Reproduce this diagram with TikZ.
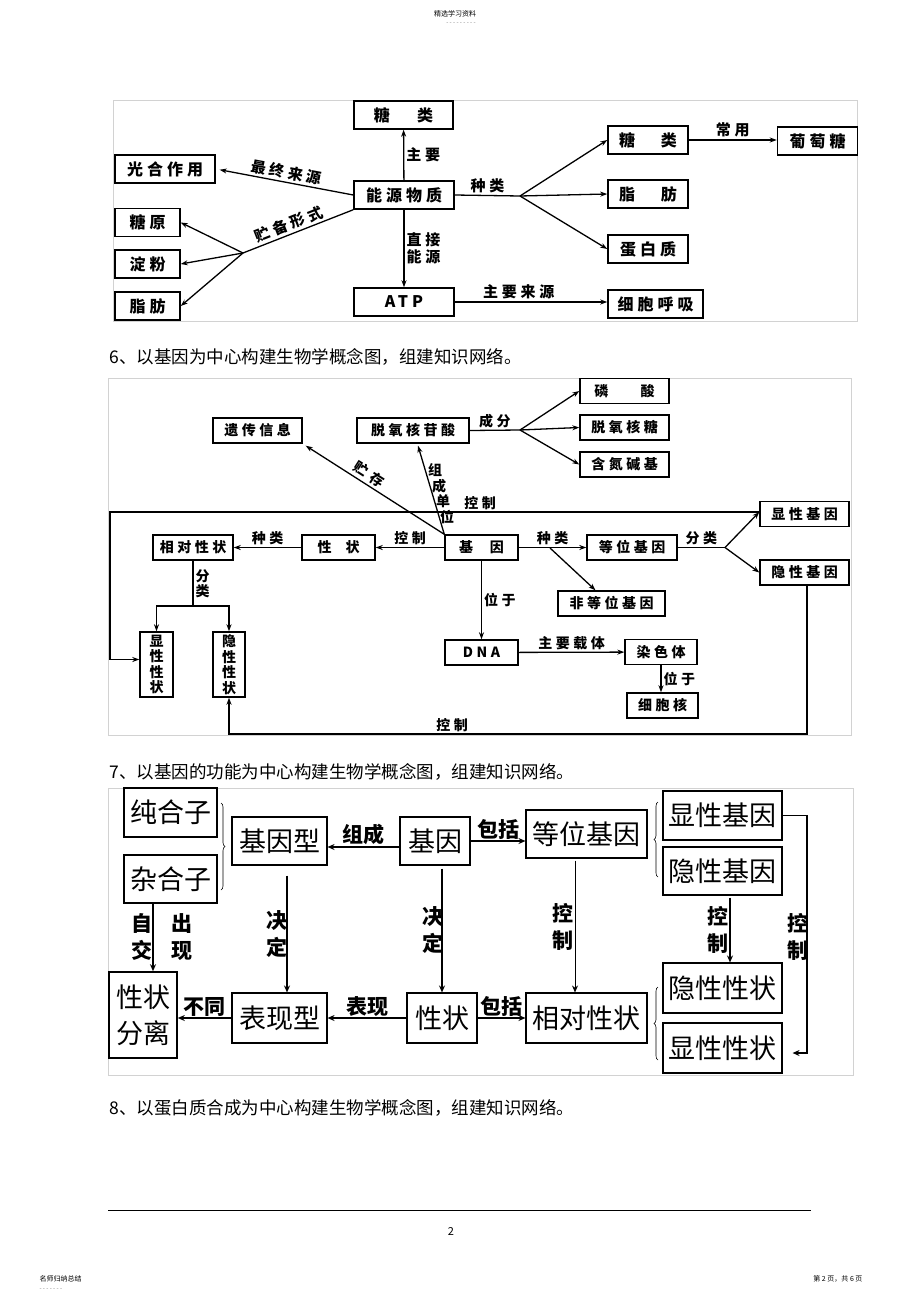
\documentclass[tikz,border=0pt]{standalone}
\usepackage{fontspec}
\setmainfont{Noto Sans CJK SC}
\newfontfamily\wide[LetterSpace=25]{Noto Sans CJK SC}
\usetikzlibrary{arrows.meta,positioning,decorations.pathreplacing}

\tikzset{
  frame/.style={draw=gray!35, line width=0.8pt},
  % first two maps
  boxa/.style={draw, line width=1.5pt, minimum height=28, inner sep=0, font=\wide\bfseries\fontsize{16}{18}\selectfont},
  boxb/.style={draw, line width=1.4pt, minimum height=25, inner sep=0, font=\wide\bfseries\fontsize{14}{16}\selectfont},
  laba/.style={inner sep=2pt, font=\wide\bfseries\fontsize{15}{17}\selectfont},
  labb/.style={inner sep=2pt, font=\wide\bfseries\fontsize{14}{16}\selectfont},
  ln/.style={line width=1.3pt},
  arr/.style={-{Stealth[length=7pt,width=5pt]}, line width=1.3pt},
  rarr/.style={{Stealth[length=7pt,width=5pt]}-, line width=1.3pt},
  % third map
  boxc/.style={draw, line width=1.1pt, inner sep=0, font=\fontsize{27}{30}\selectfont},
  labc/.style={inner sep=1pt, align=center, font=\bfseries\fontsize{21}{27}\selectfont},
  arrc/.style={-{Stealth[length=7pt,width=6pt]}, line width=1.7pt},
  brc/.style={decorate, decoration={brace, amplitude=4pt}, line width=0.6pt}
}

\begin{document}
\begin{tikzpicture}[x=1pt, y=-1pt]
\fill[white] (0,0) rectangle (920,1303);
\useasboundingbox (0,0) rectangle (920,1303);

% Page header and footer
\node (head) at (455,14) {\fontsize{7}{7}\selectfont 精选学习资料};
\node[text=gray] (headdots) at (461,24) {\fontsize{6}{6}\selectfont - - - - - - - - -};
\coordinate (fl) at (108,1210);
\coordinate (fr) at (811,1210);
\draw[line width=1pt] (fl) -- (fr);
\node (pnum) at (451,1231) {\fontsize{11}{11}\selectfont 2};
\node[anchor=west] (tagl) at (36,1279) {\fontsize{7}{7}\selectfont 名师归纳总结};
\node[anchor=west, text=gray] (tagdots) at (36,1290) {\fontsize{6}{6}\selectfont - - - - - - -};
\node[anchor=east] (tagr) at (866,1279) {\fontsize{7}{7}\selectfont 第 2 页，共 6 页};

% Captions
\node[anchor=west] (cap6) at (106,357) {\fontsize{17.5}{18}\selectfont 6、以基因为中心构建生物学概念图，组建知识网络。};
\node[anchor=west] (cap7) at (106,772) {\fontsize{17.5}{18}\selectfont 7、以基因的功能为中心构建生物学概念图，组建知识网络。};
\node[anchor=west] (cap8) at (106,1108) {\fontsize{17.5}{18}\selectfont 8、以蛋白质合成为中心构建生物学概念图，组建知识网络。};

% ---------------- Map 1: energy substances ----------------
\draw[frame] (113,100) rectangle (857,321);

\node[boxa, minimum width=99] (tl) at (403.5,115) {糖\hspace{1.7em}类};
\node[boxa, minimum width=100] (nyw) at (404,195) {能源物质};
\node[boxa, minimum width=100] (gh) at (165,169) {光合作用};
\node[boxa, minimum width=65] (ty) at (147.5,222.5) {糖原};
\node[boxa, minimum width=65] (df) at (147.5,264) {淀粉};
\node[boxa, minimum width=65] (zf) at (147.5,306) {脂肪};
\node[boxa, minimum width=100] (atp) at (404,302) {ATP};
\node[boxa, minimum width=80] (tl2) at (648,140) {糖\hspace{1.6em}类};
\node[boxa, minimum width=80] (zf2) at (648,194) {脂\hspace{1.6em}肪};
\node[boxa, minimum width=80] (dbz) at (648,249) {蛋白质};
\node[boxa, minimum width=95] (hx) at (655.5,304) {细胞呼吸};
\node[boxa, minimum width=80] (ptt) at (817.5,141) {葡萄糖};

% Map 1 links
\draw[arr] (nyw) -- node[laba, right] {主要} (tl);
\draw[rarr, shorten <=4pt] (gh.east) -- node[laba, sloped, above] {最终来源} (nyw.west);
\coordinate (cb) at (243,253);
\draw[ln] (cb) -- node[laba, sloped, above, pos=0.45] {贮备形式} (nyw.south west);
\draw[arr] (cb) -- (ty.east);
\draw[arr] (cb) -- (df.east);
\draw[arr] (cb) -- (zf.east);
\coordinate (zl) at (520,196);
\draw[ln] (nyw.east) -- node[laba, above] {种类} (zl);
\draw[arr] (zl) -- (tl2.west);
\draw[arr] (zl) -- (zf2.west);
\draw[arr] (zl) -- (dbz.west);
\draw[arr] (tl2.east) -- node[laba, above] {常用} (tl2.east -| ptt.west);
\draw[arr] (nyw) -- node[laba, right, align=left] {直接\\能源} (atp);
\draw[arr] (atp.east) -- node[laba, above, pos=0.42] {主要来源} (atp.east -| hx.west);

% ---------------- Map 2: gene ----------------
\draw[frame] (108,378) rectangle (851,735);

\node[boxb, minimum width=89] (ycxx) at (257.5,430.5) {遗传信息};
\node[boxb, minimum width=112] (tyhgs) at (413,430.5) {脱氧核苷酸};
\node[boxb, minimum width=89] (ls) at (624.5,391) {磷\hspace{2.3em}酸};
\node[boxb, minimum width=89] (tyht) at (624.5,427.5) {脱氧核糖};
\node[boxb, minimum width=89] (hdjj) at (624.5,464.5) {含氮碱基};
\node[boxb, minimum width=80] (xdxz) at (193,547.5) {相对性状};
\node[boxb, minimum width=73] (xz) at (338.5,547.5) {性\hspace{1em}状};
\node[boxb, minimum width=73] (jy) at (481.5,547.5) {基\hspace{1.2em}因};
\node[boxb, minimum width=90] (dwjy) at (632,547.5) {等位基因};
\node[boxb, minimum width=89] (xxjy) at (804.5,514) {显性基因};
\node[boxb, minimum width=89] (yxjy) at (804.5,572.5) {隐性基因};
\node[boxb, minimum width=107] (fdw) at (611.5,603.5) {非等位基因};
\node[boxb, minimum width=73] (dna) at (481.5,652.5) {DNA};
\node[boxb, minimum width=72] (rst) at (661,652) {染色体};
\node[boxb, minimum width=71] (xbh) at (662.5,705.5) {细胞核};
\node[boxb, minimum width=33, minimum height=65, align=center, font=\bfseries\fontsize{14}{15.5}\selectfont] (xxxz) at (156.5,664.5) {显\\性\\性\\状};
\node[boxb, minimum width=32, minimum height=65, align=center, font=\bfseries\fontsize{14}{15.5}\selectfont] (yxxz) at (229,664.5) {隐\\性\\性\\状};

% Map 2 links
\coordinate (cf) at (520,430);
\draw[ln] (tyhgs.east) -- node[labb, above] {成分} (cf);
\draw[arr] (cf) -- (ls.west);
\draw[arr] (cf) -- (tyht.west);
\draw[arr] (cf) -- (hdjj.west);
\draw[rarr] ([xshift=3pt,yshift=-2pt]ycxx.south east) -- node[labb, sloped, above, pos=0.42, inner sep=3pt] {贮\hspace{0.4em}存} (jy.north west);
\draw[rarr] ([xshift=5pt,yshift=-2pt]tyhgs.south) -- (jy.north west);
\foreach \c [count=\i] in {组,成,单,位}
  \node[labb] (zc\i) at ({431+4*\i},{455+15.5*\i}) {\c};
\coordinate (kz1) at (110,512);
\draw[arr] ([yshift=2pt]xxjy.west) -- node[labb, above, pos=0.43] {控制} (kz1) |- ([yshift=5pt]xxxz.west);
\coordinate (fl1) at (193,606);
\draw[ln] (xdxz.south) -- node[labb, right, align=center, font=\bfseries\fontsize{14}{15}\selectfont] {分\\类} (fl1);
\draw[arr] (fl1) -| (xxxz.north);
\draw[arr] (fl1) -| (yxxz.north);
\draw[arr] (xz) -- node[labb, above] {种类} (xdxz);
\draw[arr] (jy) -- node[labb, above] {控制} (xz);
\draw[arr] (jy) -- node[labb, above] {种类} (dwjy);
\coordinate (fz) at (550,548);
\draw[arr] (fz) -- ([xshift=-16pt]fdw.north);
\coordinate (fl2) at (725,547.5);
\draw[ln] (dwjy.east) -- node[labb, above] {分类} (fl2);
\draw[arr] (fl2) -- ([yshift=2pt]xxjy.west);
\draw[arr] (fl2) -- (yxjy.west);
\draw[arr] (jy) -- node[labb, right] {位于} (dna);
\draw[arr] (dna) -- node[labb, above] {主要载体} (rst);
\draw[arr] (rst.south) -- node[labb, right] {位于} (rst.south |- xbh.north);
\coordinate (kz2) at (807,734);
\draw[arr] ([xshift=2.5pt]yxjy.south) -- (kz2) -| node[labb, above, pos=0.307] {控制} (yxxz.south);

% ---------------- Map 3: gene function ----------------
\draw[frame] (108,788) rectangle (853,1075);

\node[boxc, minimum width=93, minimum height=49] (chz) at (170.5,812.5) {纯合子};
\node[boxc, minimum width=93, minimum height=48] (zhz) at (170.5,879) {杂合子};
\node[boxc, minimum width=95, minimum height=48] (jyx) at (279.5,841) {基因型};
\node[boxc, minimum width=70, minimum height=48] (jy3) at (435,841) {基因};
\node[boxc, minimum width=121, minimum height=48] (dwjy3) at (586.5,834) {等位基因};
\node[boxc, minimum width=119, minimum height=49] (xxjy3) at (722.5,815.5) {显性基因};
\node[boxc, minimum width=119, minimum height=48] (yxjy3) at (722.5,871) {隐性基因};
\node[boxc, minimum width=68, minimum height=86, line width=1.6pt, align=center, font=\fontsize{27}{36}\selectfont] (xzfl) at (143,1015) {性状\\分离};
\node[boxc, minimum width=95, minimum height=50] (bxx) at (279.5,1018) {表现型};
\node[boxc, minimum width=70, minimum height=50] (xz3) at (442,1018) {性状};
\node[boxc, minimum width=121, minimum height=50] (xdxz3) at (586.5,1018) {相对性状};
\node[boxc, minimum width=119, minimum height=50] (yxxz3) at (722.5,988) {隐性性状};
\node[boxc, minimum width=119, minimum height=50] (xxxz3) at (722.5,1048) {显性性状};

% Braces
\draw[brc] (221,803) -- (221,890);
\draw[brc] (658,877) -- (658,802);
\draw[brc] (658,1060) -- (658,987);

% Map 3 links
\draw[arrc] ([yshift=-6pt]jy3.west) -- node[labc, above] {组成} ([yshift=-6pt]jyx.east);
\draw[arrc] (jy3.east) -- node[labc, above] {包括} (jy3.east -| dwjy3.west);
\draw[arrc] ([xshift=-17.5pt]zhz.south) -- node[labc, xshift=-11pt] {自\\交} node[labc, xshift=29pt] {出\\现} ([xshift=10pt]xzfl.north);
\draw[arrc] ([xshift=7.5pt,yshift=-10pt]jyx.south) -- node[labc, xshift=-10pt] {决\\定} ([xshift=7.5pt]bxx.north);
\draw[arrc] ([xshift=7pt,yshift=-3pt]jy3.south) -- node[labc, xshift=-9pt] {决\\定} (xz3.north);
\draw[arrc, line width=0.9pt] ([xshift=-11.5pt,yshift=-2pt]dwjy3.south) -- node[labc, xshift=-12pt] {控\\制} ([xshift=-11.5pt]xdxz3.north);
\draw[arrc] ([xshift=7.5pt,yshift=-2pt]yxjy3.south) -- node[labc, xshift=-12pt] {控\\制} ([xshift=7.5pt]yxxz3.north);
\coordinate (kz3) at (807,815.5);
\draw[arrc, line width=1.3pt] (xxjy3.east) -- (kz3) |- node[labc, pos=0.256, xshift=-9pt] {控\\制} ([xshift=10pt,yshift=-5pt]xxxz3.east);
\draw[arrc] (bxx.west) -- node[labc, above] {不同} (bxx.west -| xzfl.east);
\draw[arrc] (xz3) -- node[labc, above] {表现} (bxx);
\draw[arrc] (xz3) -- node[labc, above] {包括} (xdxz3);

\end{tikzpicture}
\end{document}
